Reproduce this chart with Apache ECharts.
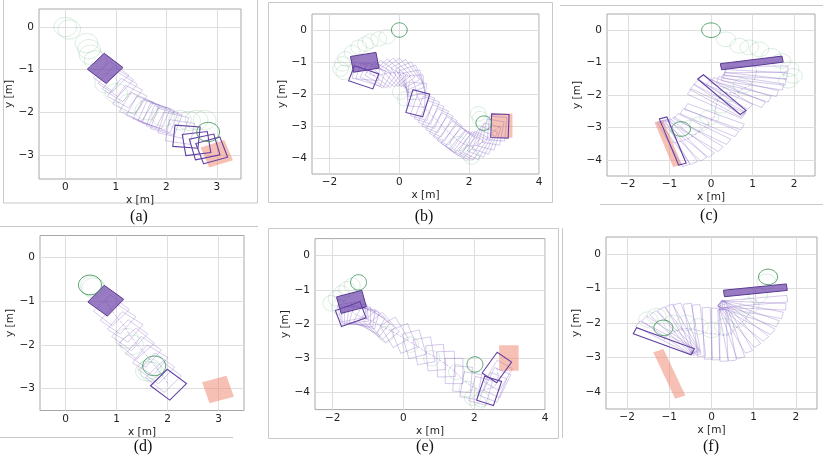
<!DOCTYPE html>
<html><head><meta charset="utf-8">
<script src="https://cdn.jsdelivr.net/npm/echarts@6.0.0/dist/echarts.min.js"></script>
<style>html,body{margin:0;padding:0;background:#fff}#c{width:823px;height:459px}</style>
</head><body><div id="c"></div><script>
// ---------- tick labels ----------
const X_TICKS_AD = [0, 1, 2, 3];
const Y_TICKS_AD = [0, -1, -2, -3];
const X_TICKS_BE = [-2, 0, 2, 4];
const Y_TICKS_BCEF = [0, -1, -2, -3, -4];
const X_TICKS_CF = [-2, -1, 0, 1, 2];
const PANEL_LABELS = ['(a)', '(b)', '(c)', '(d)', '(e)', '(f)'];

// ---------- panel (a): box [cx, cy, angleDeg], circle [cx, cy] ----------
const A_START = [[0.79, -0.97, -42]];
const A_BOXES = [[0.91,-1.16,-40],[1.00,-1.28,-38],[1.08,-1.40,-36],[1.18,-1.55,-33],[1.28,-1.71,-30],[1.41,-1.87,-28],[1.54,-1.95,-25],[1.67,-2.02,-23],[1.76,-2.06,-21],[1.84,-2.10,-20],[1.92,-2.16,-19],[2.00,-2.22,-18],[2.14,-2.30,-15],[2.27,-2.46,-10]];
const A_DARK = [[2.40,-2.57,-5],[2.60,-2.73,8],[2.76,-2.81,14],[2.90,-2.89,18]];
const A_TARGET = [[3.0,-2.97,20]];
const A_CIRC = [[0,0],[0.08,-0.06],[0.42,-0.38],[0.47,-0.52],[0.5,-0.65],[0.6,-0.78],[0.81,-1.32],[1.01,-1.55],[1.28,-1.79],[1.61,-1.95],[1.94,-2.10],[2.27,-2.18],[2.45,-2.2],[2.6,-2.18],[2.76,-2.18]];
const A_CIRC_DARK = [[2.83,-2.46]];

// ---------- panel (b) ----------
const B_START = [[-0.99,-1.01,10]];
const B_BOXES = [[-0.95,-1.30,-5],[-0.82,-1.40,-18],[-0.68,-1.42,-28],[-0.54,-1.40,-33],[-0.40,-1.37,-38],[-0.25,-1.34,-43],[-0.11,-1.32,-48],[0.03,-1.33,-53],[0.17,-1.37,-58],[0.28,-1.44,-64],[0.36,-1.53,-70],[0.42,-1.66,-78],[0.46,-1.79,-85],[0.50,-2.02,-95],[0.66,-2.40,-108],[0.79,-2.51,-110],[0.91,-2.64,-112],[1.03,-2.77,-115],[1.15,-2.90,-118],[1.26,-3.03,-120],[1.38,-3.16,-122],[1.50,-3.29,-125],[1.62,-3.40,-128],[1.74,-3.50,-130],[1.86,-3.57,-128],[1.98,-3.61,-125],[2.10,-3.62,-122],[2.21,-3.61,-118],[2.33,-3.54,-114],[2.45,-3.45,-110],[2.57,-3.33,-105],[2.69,-3.19,-100],[2.80,-3.08,-95]];
const B_DARK = [[-1.02,-1.48,-20],[0.53,-2.29,-106],[2.88,-3.00,-92]];
const B_TARGET = [[2.94,-2.99,90]];
const B_CIRC = [[-0.35,-0.21],[-0.59,-0.28],[-0.83,-0.35],[-0.97,-0.44],[-1.16,-0.54],[-1.35,-0.70],[-1.54,-0.90],[-1.63,-1.06],[-1.68,-1.22],[-1.59,-1.32],[0.03,-1.94],[0.17,-2.15],[1.69,-3.55],[1.98,-3.86],[2.07,-3.97],[2.26,-2.62],[2.31,-2.77]];
const B_CIRC_DARK = [[0,0],[2.42,-2.91]];

// ---------- panel (c) ----------
const C_START = [[0.98,-1.01,9]];
const C_BOXES = [[1.10,-1.21,1],[1.08,-1.36,-4],[1.05,-1.50,-8],[1.00,-1.61,-11],[0.88,-1.74,-17],[0.72,-1.84,-23],[0.60,-1.95,-28],[0.35,-1.91,-38],[0.22,-2.08,-40],[0.16,-2.18,-35],[0.13,-2.27,-30],[0.08,-2.67,-25],[-0.04,-2.85,-28],[-0.21,-3.05,-32],[-0.36,-3.21,-38],[-0.52,-3.33,-45],[-0.64,-3.39,-52],[-0.78,-3.45,-60],[-0.90,-3.49,-66]];
const C_DARK = [[0.26,-1.99,-47],[-0.92,-3.42,-72]];
const C_TARGET = [[-1.03,-3.50,-72]];
const C_CIRC = [[0.36,-0.28],[0.68,-0.48],[0.92,-0.53],[1.16,-0.59],[1.45,-0.79],[1.69,-0.95],[1.89,-1.2],[1.97,-1.41],[1.85,-1.56],[0.76,-1.72],[0.44,-1.97],[0.24,-2.33],[-0.04,-2.69],[-0.28,-2.90],[-0.48,-3.0]];
const C_CIRC_DARK = [[0,0],[-0.72,-3.05]];

// ---------- panel (d) ----------
const D_START = [[0.79,-0.99,-40]];
const D_BOXES = [[0.90,-1.21,-42],[1.03,-1.40,-38],[1.17,-1.59,-36],[1.26,-1.78,-40],[1.39,-1.97,-44],[1.53,-2.16,-38],[1.66,-2.35,-35],[1.79,-2.54,-40],[1.92,-2.73,-42]];
const D_DARK = [[2.02,-2.91,-41]];
const D_TARGET = [[2.99,-3.02,17]];
const D_CIRC = [[0.52,-0.66],[0.55,-0.70],[1.20,-1.85],[1.30,-2.00],[1.65,-2.55],[1.70,-2.62],[1.60,-2.60]];
const D_CIRC_DARK = [[0.48,-0.63],[1.74,-2.48]];

// ---------- panel (e) ----------
const E_START = [[-1.47,-1.35,15]];
const E_BOXES = [[-1.45,-1.62,12],[-1.38,-1.70,5],[-1.30,-1.75,0],[-1.20,-1.78,-8],[-1.11,-1.80,-15],[-0.97,-1.88,-28],[-0.83,-1.95,-38],[-0.69,-2.02,-45],[-0.55,-2.10,-50],[-0.26,-2.24,-60],[0.02,-2.42,-68],[0.30,-2.59,-75],[0.58,-2.78,-80],[0.91,-2.98,-85],[1.20,-3.17,-88],[1.43,-3.37,-90],[1.67,-3.61,-95],[1.90,-3.80,-100],[2.18,-3.95,-105],[2.55,-3.85,-112],[2.65,-3.71,-115],[2.68,-3.50,-120]];
const E_DARK = [[-1.49,-1.71,20],[2.42,-3.95,-108],[2.64,-3.27,-125]];
const E_TARGET = [[2.98,-2.99,90]];
const E_CIRC = [[-1.45,-0.88],[-1.60,-0.98],[-1.75,-1.10],[-1.90,-1.25],[-1.80,-1.50],[-2.05,-1.39],[-0.50,-2.30],[0.20,-2.60],[0.80,-3.00],[1.50,-3.40],[1.80,-3.90],[1.95,-4.15],[2.10,-4.30],[2.20,-4.20]];
const E_CIRC_DARK = [[-1.27,-0.78],[2.02,-3.18]];

// ---------- panel (f) ----------
const F_START = [[1.04,-1.05,7]];
const F_BOXES = [[1.05,-1.37,6],[1.01,-1.49,-3],[0.95,-1.61,-13],[0.88,-1.73,-23],[0.83,-1.84,-34],[0.75,-1.94,-44],[0.66,-2.04,-55],[0.57,-2.16,-65],[0.49,-2.29,-74],[0.38,-2.35,-81],[0.27,-2.36,-88],[0.10,-2.32,-90],[-0.10,-2.30,-88],[-0.30,-2.22,-85],[-0.46,-2.18,-81],[-0.59,-2.16,-72],[-0.69,-2.17,-65],[-0.79,-2.21,-57],[-0.90,-2.27,-49],[-1.02,-2.35,-40],[-1.11,-2.42,-32]];
const F_DARK = [[-1.13,-2.53,-24]];
const F_TARGET = [[-1.00,-3.48,-69]];
const F_CIRC = [[1.30,-0.80],[1.10,-1.20],[0.90,-1.50],[0.60,-1.90],[0.30,-2.10],[0.00,-2.20],[-0.30,-2.10],[-0.60,-2.00],[-0.90,-2.00],[-1.30,-1.80],[-1.50,-1.90]];
const F_CIRC_DARK = [[1.34,-0.66],[-1.14,-2.14]];

// ---------- per panel geometry ----------
const PANELS = [
  {grid:{left:39,top:9,width:202,height:170}, x:[-0.52,3.48], y:[-3.56,0.42], xt:X_TICKS_AD, yt:Y_TICKS_AD, box:[0.5,0.5], tgt:[0.5,0.5],
   start:A_START, boxes:A_BOXES, dark:A_DARK, target:A_TARGET, circ:A_CIRC, circDark:A_CIRC_DARK, path:false, label:[139,217]},
  {grid:{left:312,top:14,width:227,height:160}, x:[-2.5,4], y:[-4.5,0.5], xt:X_TICKS_BE, yt:Y_TICKS_BCEF, box:[0.74,0.5], tgt:[0.75,0.6],
   start:B_START, boxes:B_BOXES, dark:B_DARK, target:B_TARGET, circ:B_CIRC, circDark:B_CIRC_DARK, path:true, label:[424,217]},
  {grid:{left:607,top:14,width:208,height:162}, x:[-2.5,2.5], y:[-4.5,0.5], xt:X_TICKS_CF, yt:Y_TICKS_BCEF, box:[1.5,0.19], tgt:[1.45,0.22],
   start:C_START, boxes:C_BOXES, dark:C_DARK, target:C_TARGET, circ:C_CIRC, circDark:C_CIRC_DARK, path:true, label:[709,216]},
  {grid:{left:40,top:235.5,width:204,height:175}, x:[-0.5,3.5], y:[-3.5,0.5], xt:X_TICKS_AD, yt:Y_TICKS_AD, box:[0.5,0.5], tgt:[0.5,0.5],
   start:D_START, boxes:D_BOXES, dark:D_DARK, target:D_TARGET, circ:D_CIRC, circDark:D_CIRC_DARK, path:true, label:[143,447]},
  {grid:{left:315,top:238.6,width:230,height:171}, x:[-2.5,4], y:[-4.5,0.5], xt:X_TICKS_BE, yt:Y_TICKS_BCEF, box:[0.74,0.5], tgt:[0.75,0.55],
   start:E_START, boxes:E_BOXES, dark:E_DARK, target:E_TARGET, circ:E_CIRC, circDark:E_CIRC_DARK, path:true, label:[425,447]},
  {grid:{left:606,top:237,width:211,height:172}, x:[-2.5,2.5], y:[-4.5,0.5], xt:X_TICKS_CF, yt:Y_TICKS_BCEF, box:[1.5,0.19], tgt:[1.45,0.26],
   start:F_START, boxes:F_BOXES, dark:F_DARK, target:F_TARGET, circ:F_CIRC, circDark:F_CIRC_DARK, path:true, label:[711,447]}
];

const R = 0.225;
const STY = {
  light: {fill:'none', stroke:'rgba(130,95,195,0.55)', lineWidth:0.6},
  start: {fill:'rgba(112,72,170,0.72)', stroke:'#5b3a94', lineWidth:1},
  dark:  {fill:'none', stroke:'#6241a3', lineWidth:1.1},
  target:{fill:'rgba(240,140,118,0.55)', stroke:'none', lineWidth:0},
  circ:  {fill:'none', stroke:'rgba(90,175,120,0.28)', lineWidth:0.8},
  circDark:{fill:'none', stroke:'rgba(55,145,85,0.85)', lineWidth:1}
};

function boxRender(size, style){
  return function(params, api){
    const cx = api.value(0), cy = api.value(1), th = api.value(2) * Math.PI / 180;
    const w = size[0]/2, h = size[1]/2, c = Math.cos(th), s = Math.sin(th);
    const pts = [[-w,-h],[w,-h],[w,h],[-w,h]].map(function(p){
      return api.coord([cx + p[0]*c - p[1]*s, cy + p[0]*s + p[1]*c]);
    });
    return {type:'polygon', shape:{points:pts}, style: Object.assign({}, style)};
  };
}
function circRender(r, style){
  return function(params, api){
    const cx = api.value(0), cy = api.value(1), pts = [];
    for (let k = 0; k < 48; k++){
      const a = k / 48 * 2 * Math.PI;
      pts.push(api.coord([cx + r*Math.cos(a), cy + r*Math.sin(a)]));
    }
    return {type:'polygon', shape:{points:pts}, style: Object.assign({}, style)};
  };
}
const fmt = function(v){ return String(v).replace('-', '\u2212'); };

const grids = [], xAxes = [], yAxes = [], series = [];
PANELS.forEach(function(p, i){
  grids.push(Object.assign({show:true, borderColor:'#a8a8a8', borderWidth:1, backgroundColor:'#fff', outerBoundsMode:'none', containLabel:false}, p.grid));
  xAxes.push({type:'value', gridIndex:i, min:p.x[0], max:p.x[1],
    name:'x [m]', nameLocation:'middle', nameGap:16,
    nameTextStyle:{fontFamily:'DejaVu Sans', fontSize:10.5, color:'#222'},
    axisLine:{show:false}, axisTick:{show:false, customValues:p.xt},
    axisLabel:{customValues:p.xt, formatter:fmt, fontFamily:'DejaVu Sans', fontSize:10.5, color:'#222', margin:3},
    splitLine:{show:true, lineStyle:{color:'#dedede', width:1}}});
  yAxes.push({type:'value', gridIndex:i, min:p.y[0], max:p.y[1],
    name:'y [m]', nameLocation:'middle', nameGap:19,
    nameTextStyle:{fontFamily:'DejaVu Sans', fontSize:10.5, color:'#222'},
    axisLine:{show:false}, axisTick:{show:false, customValues:p.yt},
    axisLabel:{customValues:p.yt, formatter:fmt, fontFamily:'DejaVu Sans', fontSize:10.5, color:'#222', margin:5},
    splitLine:{show:true, lineStyle:{color:'#dedede', width:1}}});
  const base = {type:'custom', xAxisIndex:i, yAxisIndex:i, clip:true, encode:{x:0, y:1}, silent:true, animation:false};
  series.push(Object.assign({}, base, {data:p.target, renderItem:boxRender(p.tgt, STY.target), z:1}));
  series.push(Object.assign({}, base, {data:p.circ, renderItem:circRender(R, STY.circ), z:2}));
  series.push(Object.assign({}, base, {data:p.boxes, renderItem:boxRender(p.box, STY.light), z:3}));
  if (p.path){
    const centers = p.start.concat(p.boxes, [p.dark[p.dark.length-1]]).map(function(d){ return [d[0], d[1]]; });
    series.push({type:'line', xAxisIndex:i, yAxisIndex:i, data:centers, symbol:'none', silent:true, animation:false, z:3,
      lineStyle:{color:'rgba(130,95,195,0.55)', width:0.7, type:'dashed'}});
  }
  series.push(Object.assign({}, base, {data:p.start, renderItem:boxRender(p.box, STY.start), z:4}));
  series.push(Object.assign({}, base, {data:p.dark, renderItem:boxRender(p.box, STY.dark), z:4}));
  series.push(Object.assign({}, base, {data:p.circDark, renderItem:circRender(R, STY.circDark), z:5}));
});

const frameStyle = {stroke:'#c8c8c8', lineWidth:1, fill:'none'};
const graphics = [
  {type:'rect', shape:{x:3.5, y:-1, width:254, height:204}, style:frameStyle, silent:true},
  {type:'rect', shape:{x:268.5, y:2.5, width:284, height:200}, style:frameStyle, silent:true},
  {type:'line', shape:{x1:560, y1:5.5, x2:823, y2:5.5}, style:frameStyle, silent:true},
  {type:'line', shape:{x1:600, y1:204.5, x2:823, y2:204.5}, style:frameStyle, silent:true},
  {type:'line', shape:{x1:0, y1:226.5, x2:258, y2:226.5}, style:frameStyle, silent:true},
  {type:'line', shape:{x1:0, y1:437.5, x2:233, y2:437.5}, style:frameStyle, silent:true},
  {type:'rect', shape:{x:268.5, y:228.5, width:290, height:210}, style:frameStyle, silent:true},
  {type:'line', shape:{x1:562.5, y1:228, x2:562.5, y2:438}, style:frameStyle, silent:true}
];
PANELS.forEach(function(p, i){
  graphics.push({type:'text', x:p.label[0], y:p.label[1], silent:true,
    style:{text:PANEL_LABELS[i], font:'16px "Liberation Serif"', fill:'#111', textAlign:'center', textVerticalAlign:'middle'}});
});

const chart = echarts.init(document.getElementById('c'), null, {renderer:'canvas'});
chart.setOption({
  animation:false,
  backgroundColor:'#fff',
  grid:grids, xAxis:xAxes, yAxis:yAxes, series:series, graphic:graphics
});
</script></body></html>
